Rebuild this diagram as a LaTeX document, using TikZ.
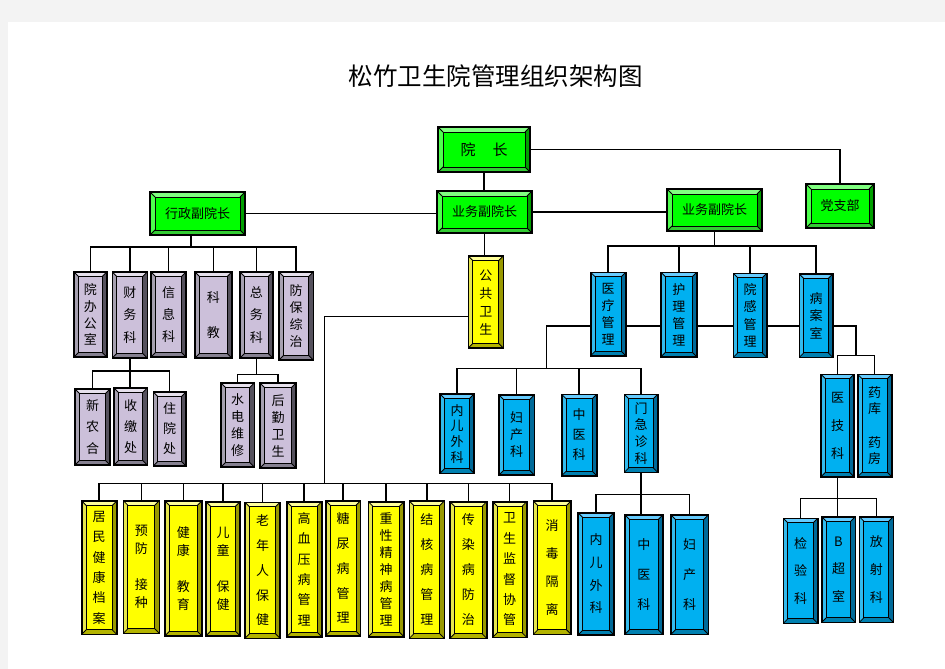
\documentclass[tikz,border=0pt]{standalone}
\usepackage{fontspec}
\setmainfont{Noto Sans CJK SC}
\newfontfamily\cjk{Noto Sans CJK SC}
\usetikzlibrary{backgrounds}
% green
\definecolor{gface}{HTML}{00FF00}
\definecolor{gtop}{HTML}{80FF80}
\definecolor{gleft}{HTML}{4DFF4D}
\definecolor{gright}{HTML}{00A000}
\definecolor{gbot}{HTML}{33CC33}
% lavender
\definecolor{lface}{HTML}{CCC0DA}
\definecolor{ltop}{HTML}{E6E0EC}
\definecolor{lleft}{HTML}{A6A0B0}
\definecolor{lright}{HTML}{55515D}
\definecolor{lbot}{HTML}{858090}
% yellow
\definecolor{yface}{HTML}{FFFF00}
\definecolor{ytop}{HTML}{FFFF99}
\definecolor{yleft}{HTML}{E6E64D}
\definecolor{yright}{HTML}{999900}
\definecolor{ybot}{HTML}{B3B300}
% blue
\definecolor{bface}{HTML}{00B0F0}
\definecolor{btop}{HTML}{66CCFF}
\definecolor{bleft}{HTML}{33BBEE}
\definecolor{bright}{HTML}{006A99}
\definecolor{bbot}{HTML}{0080B0}
\definecolor{pagegray}{HTML}{F3F3F3}

\tikzset{
  boxnode/.style={draw=black, line width=1.6pt, inner sep=0pt, align=center, text=black},
  bevline/.style={draw=black, line width=0.8pt},
  conn/.style={draw=black, line width=1.5pt}
}

% #1 name, #2 x1, #3 y1, #4 x2, #5 y2, #6 scheme, #7 bevel depth, #8 baselineskip, #9 text
\newcommand\bvbox[9]{%
  \fill[#6right] (#2,#3) rectangle (#4,#5);
  \fill[#6bot] (#2,#5) -- (#4,#5) -- (#4-#7,#5-#7) -- (#2+#7,#5-#7) -- cycle;
  \fill[#6top] (#2,#3) -- (#4,#3) -- (#4-#7,#3+#7) -- (#2+#7,#3+#7) -- cycle;
  \fill[#6left] (#2,#3) -- (#2+#7,#3+#7) -- (#2+#7,#5-#7) -- (#2,#5) -- cycle;
  \fill[#6face] (#2+#7,#3+#7) rectangle (#4-#7,#5-#7);
  \draw[bevline] (#2+#7,#3+#7) rectangle (#4-#7,#5-#7);
  \draw[bevline] (#2,#3) -- (#2+#7,#3+#7) (#4,#3) -- (#4-#7,#3+#7)
                 (#2,#5) -- (#2+#7,#5-#7) (#4,#5) -- (#4-#7,#5-#7);
  \pgfmathsetmacro\bxw{#4-#2}\pgfmathsetmacro\bxh{#5-#3}
  \node[boxnode, minimum width=\bxw pt, minimum height=\bxh pt,
        font=\cjk\fontsize{13}{#8}\selectfont] (#1) at ({(#2+#4)/2},{(#3+#5)/2}) {#9};
}

\begin{document}
\begin{tikzpicture}[x=1pt, y=-1pt, font=\cjk]
\useasboundingbox (0,0) rectangle (945,669);
\begin{pgfonlayer}{background}
  \fill[pagegray] (0,0) rectangle (945,669);
  \fill[white] (8,22) rectangle (945,669);
\end{pgfonlayer}

\node[font=\cjk\fontsize{24.5}{28}\selectfont] (title) at (495.5,76) {松竹卫生院管理组织架构图};

% green
\bvbox{yz}{438}{127}{530}{172}{g}{5}{16}{\fontsize{15}{18}\selectfont 院\hspace{17pt}长}
\bvbox{xz}{150}{192}{245}{235}{g}{5}{16}{行政副院长}
\bvbox{ywm}{437}{191}{532}{233}{g}{5}{16}{业务副院长}
\bvbox{ywr}{667}{189}{762}{231}{g}{5}{16}{业务副院长}
\bvbox{dzb}{806}{184}{874}{228}{g}{5}{16}{党支部}

% lavender
\bvbox{a1}{74}{272}{106.7}{357}{l}{4.5}{16.7}{院\\办\\公\\室}
\bvbox{a2}{112.3}{272}{147.3}{358}{l}{4.5}{22.3}{财\\务\\科}
\bvbox{a3}{151}{272}{186}{357}{l}{4.5}{22.3}{信\\息\\科}
\bvbox{a4}{195}{272}{231.7}{358}{l}{4.5}{34.7}{科\\教}
\bvbox{a5}{240}{272}{272.7}{358}{l}{4.5}{22.3}{总\\务\\科}
\bvbox{a6}{279}{272}{313.3}{360}{l}{4.5}{17}{防\\保\\综\\治}
\bvbox{b1}{75}{389}{110}{465}{l}{4.5}{21.7}{新\\农\\合}
\bvbox{b2}{114}{388}{147.3}{465}{l}{4.5}{21}{收\\缴\\处}
\bvbox{b3}{153.3}{392}{186}{466}{l}{4.5}{20}{住\\院\\处}
\bvbox{c1}{221}{383}{254.3}{467}{l}{4.5}{17}{水\\电\\维\\修}
\bvbox{c2}{260}{383}{296}{468}{l}{4.5}{17}{后\\勤\\卫\\生}

% yellow
\bvbox{ggws}{468.3}{256}{503.3}{348}{y}{4.5}{18}{公\\共\\卫\\生}
\bvbox{y1}{81.7}{501}{116.7}{634.3}{y}{4.5}{20.3}{居\\民\\健\\康\\档\\案}
\bvbox{y2}{123.3}{500.7}{159.3}{633.3}{y}{4.5}{17.9}{预\\防\\[17.9pt]接\\种}
\bvbox{y3}{165}{501}{201.7}{635.7}{y}{4.5}{17.9}{健\\康\\[17.9pt]教\\育}
\bvbox{y4}{206}{501.7}{240}{635.7}{y}{4.5}{17.9}{儿\\童\\[17.9pt]保\\健}
\bvbox{y5}{245}{502.3}{280}{638.3}{y}{4.5}{24.8}{老\\年\\人\\保\\健}
\bvbox{y6}{286.7}{501.7}{321.7}{636.7}{y}{4.5}{20.3}{高\\血\\压\\病\\管\\理}
\bvbox{y7}{325.7}{500.7}{360.5}{635.7}{y}{4.5}{24.8}{糖\\尿\\病\\管\\理}
\bvbox{y8}{368.3}{501.7}{404}{636.7}{y}{4.5}{17}{重\\性\\精\\神\\病\\管\\理}
\bvbox{y9}{409.3}{501}{444.3}{638.3}{y}{4.5}{25}{结\\核\\病\\管\\理}
\bvbox{y10}{450}{501.7}{486.7}{638.3}{y}{4.5}{25}{传\\染\\病\\防\\治}
\bvbox{y11}{492.7}{501.7}{526.7}{637.3}{y}{4.5}{20.4}{卫\\生\\监\\督\\协\\管}
\bvbox{y12}{533.3}{501}{571}{634.3}{y}{4.5}{28}{消\\毒\\隔\\离}

% blue
\bvbox{m1}{590.7}{272.3}{625.7}{355.7}{b}{4.5}{16.9}{医\\疗\\管\\理}
\bvbox{m2}{661}{272.3}{696.7}{356.7}{b}{4.5}{16.9}{护\\理\\管\\理}
\bvbox{m3}{733.3}{273.3}{766.7}{357.3}{b}{4.5}{17.4}{院\\感\\管\\理}
\bvbox{m4}{799.3}{274}{832.7}{357.3}{b}{4.5}{17.6}{病\\案\\室}
\bvbox{n1}{440}{394}{474}{473.3}{b}{4.5}{15.6}{内\\儿\\外\\科}
\bvbox{n2}{499}{395}{534.3}{475}{b}{4.5}{17}{妇\\产\\科}
\bvbox{n3}{561.7}{394.3}{596.7}{475.7}{b}{4.5}{20}{中\\医\\科}
\bvbox{n4}{624.3}{394.3}{657.7}{472.3}{b}{4.5}{16.7}{门\\急\\诊\\科}
\bvbox{p1}{821}{374.3}{854}{476.7}{b}{4.5}{28}{医\\技\\科}
\bvbox{p2}{857.7}{374.3}{891.7}{476.7}{b}{4.5}{16.7}{药\\库\\[16.7pt]药\\房}
\bvbox{q1}{578}{512.7}{614}{635}{b}{4.5}{22.6}{内\\儿\\外\\科}
\bvbox{q2}{625}{515}{662.7}{634.3}{b}{4.5}{30.3}{中\\医\\科}
\bvbox{q3}{671}{515}{708.3}{634.3}{b}{4.5}{30.3}{妇\\产\\科}
\bvbox{r1}{783.3}{518.3}{817.7}{623.3}{b}{4.5}{27.8}{检\\验\\科}
\bvbox{r2}{821.7}{516.7}{855.3}{622.3}{b}{4.5}{27.8}{B\\超\\室}
\bvbox{r3}{859.3}{516.7}{893.3}{622.3}{b}{4.5}{27.8}{放\\射\\科}

% bus coordinates
\coordinate (k1) at (191,247);
\coordinate (k2) at (0,371);
\coordinate (k3) at (0,374.3);
\coordinate (k4) at (324.3,316.7);
\coordinate (k5) at (0,483.3);
\coordinate (k6) at (0,246);
\coordinate (k7) at (546.7,326);
\coordinate (k8) at (0,368.5);
\coordinate (k9) at (856,326);
\coordinate (k10) at (0,355.5);
\coordinate (k11) at (0,494.3);
\coordinate (k12) at (0,498.3);

\begin{pgfonlayer}{background}
  % top level
  \draw[conn] (yz.south) -- (yz.south |- ywm.north);
  \draw[conn] (yz.east) -| (dzb.north);
  \draw[conn] (xz.east) -- (xz.east -| ywm.west);
  \draw[conn] (ywm.east) -- (ywm.east -| ywr.west);
  % admin
  \draw[conn] (xz.south -| k1) -- (k1);
  \draw[conn] (a1.north) -- (a1.north |- k1) -- (a6.north |- k1) -- (a6.north);
  \foreach \n in {a2,a3,a4,a5} \draw[conn] (\n.north) -- (\n.north |- k1);
  \draw[conn] (a2.south) -- (a2.south |- b2.north);
  \draw[conn] (b1.north) -- (b1.north |- k2) -- (b3.north |- k2) -- (b3.north);
  \draw[conn] (a5.south) -- (a5.south |- k3);
  \draw[conn] (c1.north) -- (c1.north |- k3) -- (c2.north |- k3) -- (c2.north);
  % public health
  \draw[conn] (ywm.south) -- (ywm.south |- ggws.north);
  \draw[conn] (ggws.west |- k4) -- (k4) -- (k4 |- k5);
  \draw[conn] (y1.north) -- (y1.north |- k5) -- (y12.north |- k5) -- (y12.north);
  \foreach \n in {y2,y3,y4,y5,y6,y7,y8,y9,y10,y11} \draw[conn] (\n.north) -- (\n.north |- k5);
  % medical
  \draw[conn] (ywr.south) -- (ywr.south |- k6);
  \draw[conn] (m1.north) -- (m1.north |- k6) -- (m4.north |- k6) -- (m4.north);
  \foreach \n in {m2,m3} \draw[conn] (\n.north) -- (\n.north |- k6);
  \draw[conn] (m1.west |- k7) -- (k7) -- (k7 |- k8);
  \draw[conn] (m1.east |- k7) -- (m2.west |- k7);
  \draw[conn] (m2.east |- k7) -- (m3.west |- k7);
  \draw[conn] (m3.east |- k7) -- (m4.west |- k7);
  \draw[conn] (n1.north) -- (n1.north |- k8) -- (n4.north |- k8) -- (n4.north);
  \foreach \n in {n2,n3} \draw[conn] (\n.north) -- (\n.north |- k8);
  \draw[conn] (m4.east |- k9) -- (k9) -- (k9 |- k10);
  \draw[conn] (p1.north) -- (p1.north |- k10) -- (p2.north |- k10) -- (p2.north);
  \draw[conn] (n4.south) -- (n4.south |- q2.north);
  \draw[conn] (q1.north) -- (q1.north |- k11) -- (q3.north |- k11) -- (q3.north);
  \draw[conn] (p1.south) -- (p1.south |- r2.north);
  \draw[conn] (r1.north) -- (r1.north |- k12) -- (r3.north |- k12) -- (r3.north);
\end{pgfonlayer}
\end{tikzpicture}
\end{document}
